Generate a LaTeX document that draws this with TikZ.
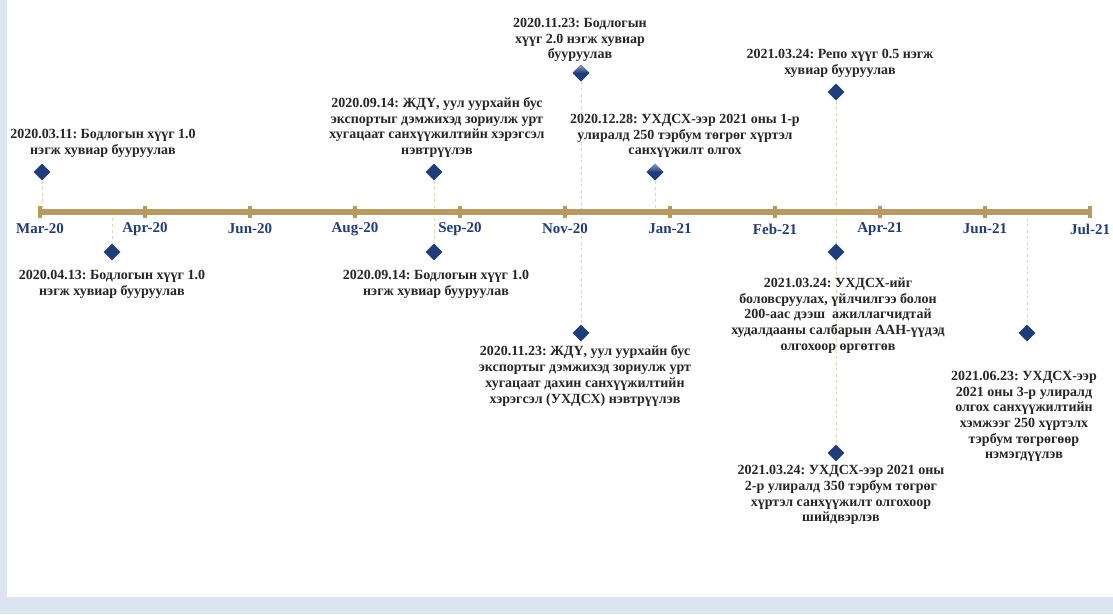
\documentclass[tikz,border=0pt]{standalone}
\usepackage{fontspec}
\setmainfont{Liberation Serif}
\usetikzlibrary{shapes.geometric,backgrounds}
\definecolor{navy}{HTML}{1F3C7C}
\definecolor{navylight}{HTML}{8C9DC6}
\definecolor{axisbrown}{HTML}{B8995E}
\definecolor{dashtan}{HTML}{E2D2B6}
\definecolor{txt}{HTML}{262626}
\definecolor{frameblue}{HTML}{DCE4F2}
\frenchspacing
\begin{document}
\begin{tikzpicture}[x=1pt,y=-1pt,
  dmd/.style={diamond, fill=navy, minimum width=17pt, minimum height=17pt, inner sep=0pt},
  dmdshade/.style={dmd, top color=navylight, bottom color=navy, middle color=navy},
  ann/.style={font=\fontsize{14}{15.7}\selectfont\bfseries, text=txt, align=center, inner sep=0pt},
  mon/.style={font=\fontsize{15}{17}\selectfont\bfseries, text=navy, inner sep=0pt},
  guide/.style={draw=dashtan, dash pattern=on 3pt off 3pt, line width=1pt},
  tickbar/.style={rectangle, fill=axisbrown, minimum width=4pt, minimum height=12pt, inner sep=0pt}
]
\useasboundingbox (0,0) rectangle (1113,614);

% axis ticks
\foreach \i in {0,...,10} {
  \node[tickbar] (m\i) at (40+105*\i,212) {};
}
\draw[axisbrown, line width=6pt] (m0.center) -- (m10.center);

% month labels
\node[mon] (l0) at (40,229) {Mar-20};
\node[mon] (l1) at (145,229) {Apr-20};
\node[mon] (l2) at (250,229) {Jun-20};
\node[mon] (l3) at (355,229) {Aug-20};
\node[mon] (l4) at (460,229) {Sep-20};
\node[mon] (l5) at (565,229) {Nov-20};
\node[mon] (l6) at (670,229) {Jan-21};
\node[mon] (l7) at (775,229) {Feb-21};
\node[mon] (l8) at (880,229) {Apr-21};
\node[mon] (l9) at (985,229) {Jun-21};
\node[mon] (l10) at (1090,229) {Jul-21};

% axis anchor points for guides
\coordinate (a1) at (42,212);
\coordinate (a2) at (112,212);
\coordinate (a3) at (434,212);
\coordinate (a5) at (581,212);
\coordinate (a6) at (655,212);
\coordinate (a8) at (836,212);
\coordinate (a11) at (1027,212);

% diamonds
\node[dmd] (d1) at (42,172) {};
\node[dmd] (d2) at (112,252) {};
\node[dmd] (d3) at (434,172) {};
\node[dmd] (d4) at (434,252) {};
\node[dmdshade] (d5) at (581,73) {};
\node[dmdshade] (d6) at (655,172) {};
\node[dmd] (d7) at (581,333) {};
\node[dmd] (d8) at (836,92) {};
\node[dmd] (d9) at (836,252) {};
\node[dmd] (d10) at (836,453) {};
\node[dmd] (d11) at (1027,333) {};

% guides
\begin{scope}[on background layer]
  \fill[frameblue] (0,0) rectangle (1113,614);
  \fill[white] (7,0) rectangle (1113,597);
  \draw[guide] (d1) -- (a1);
  \draw[guide] (a2) -- (d2);
  \draw[guide] (d3) -- (a3);
  \draw[guide] (a3) -- (d4);
  \draw[guide] (d5) -- (a5);
  \draw[guide] (a5) -- (d7);
  \draw[guide] (d6) -- (a6);
  \draw[guide] (d8) -- (a8);
  \draw[guide] (a8) -- (d10);
  \draw[guide] (a11) -- (d11);
\end{scope}

% annotations
\node[ann] (t1) at (103,143.5) {2020.03.11: Бодлогын хүүг 1.0\\нэгж хувиар бууруулав};
\node[ann] (t2) at (112,284) {2020.04.13: Бодлогын хүүг 1.0\\нэгж хувиар бууруулав};
\node[ann] (t3) at (437,127.5) {2020.09.14: ЖДҮ, уул уурхайн бус\\экспортыг дэмжихэд зориулж урт\\хугацаат санхүүжилтийн хэрэгсэл\\нэвтрүүлэв};
\node[ann] (t4) at (436,284) {2020.09.14: Бодлогын хүүг 1.0\\нэгж хувиар бууруулав};
\node[ann] (t5) at (580,40) {2020.11.23: Бодлогын\\хүүг 2.0 нэгж хувиар\\бууруулав};
\node[ann] (t6) at (685,136) {2020.12.28: УХДСХ-ээр 2021 оны 1-р\\улиралд 250 тэрбум төгрөг хүртэл\\санхүүжилт олгох};
\node[ann] (t7) at (585,376) {2020.11.23: ЖДҮ, уул уурхайн бус\\экспортыг дэмжихэд зориулж урт\\хугацаат дахин санхүүжилтийн\\хэрэгсэл (УХДСХ) нэвтрүүлэв};
\node[ann] (t8) at (840,63.5) {2021.03.24: Репо хүүг 0.5 нэгж\\хувиар бууруулав};
\node[ann] (t9) at (838,315.5) {2021.03.24: УХДСХ-ийг\\боловсруулах, үйлчилгээ болон\\200-аас дээш\ \ ажиллагчидтай\\худалдааны салбарын ААН-үүдэд\\олгохоор өргөтгөв};
\node[ann] (t10) at (841,495) {2021.03.24: УХДСХ-ээр 2021 оны\\2-р улиралд 350 тэрбум төгрөг\\хүртэл санхүүжилт олгохоор\\шийдвэрлэв};
\node[ann] (t11) at (1024,416.5) {2021.06.23: УХДСХ-ээр\\2021 оны 3-р улиралд\\олгох санхүүжилтийн\\хэмжээг 250 хүртэлх\\тэрбум төгрөгөөр\\нэмэгдүүлэв};
\end{tikzpicture}
\end{document}
